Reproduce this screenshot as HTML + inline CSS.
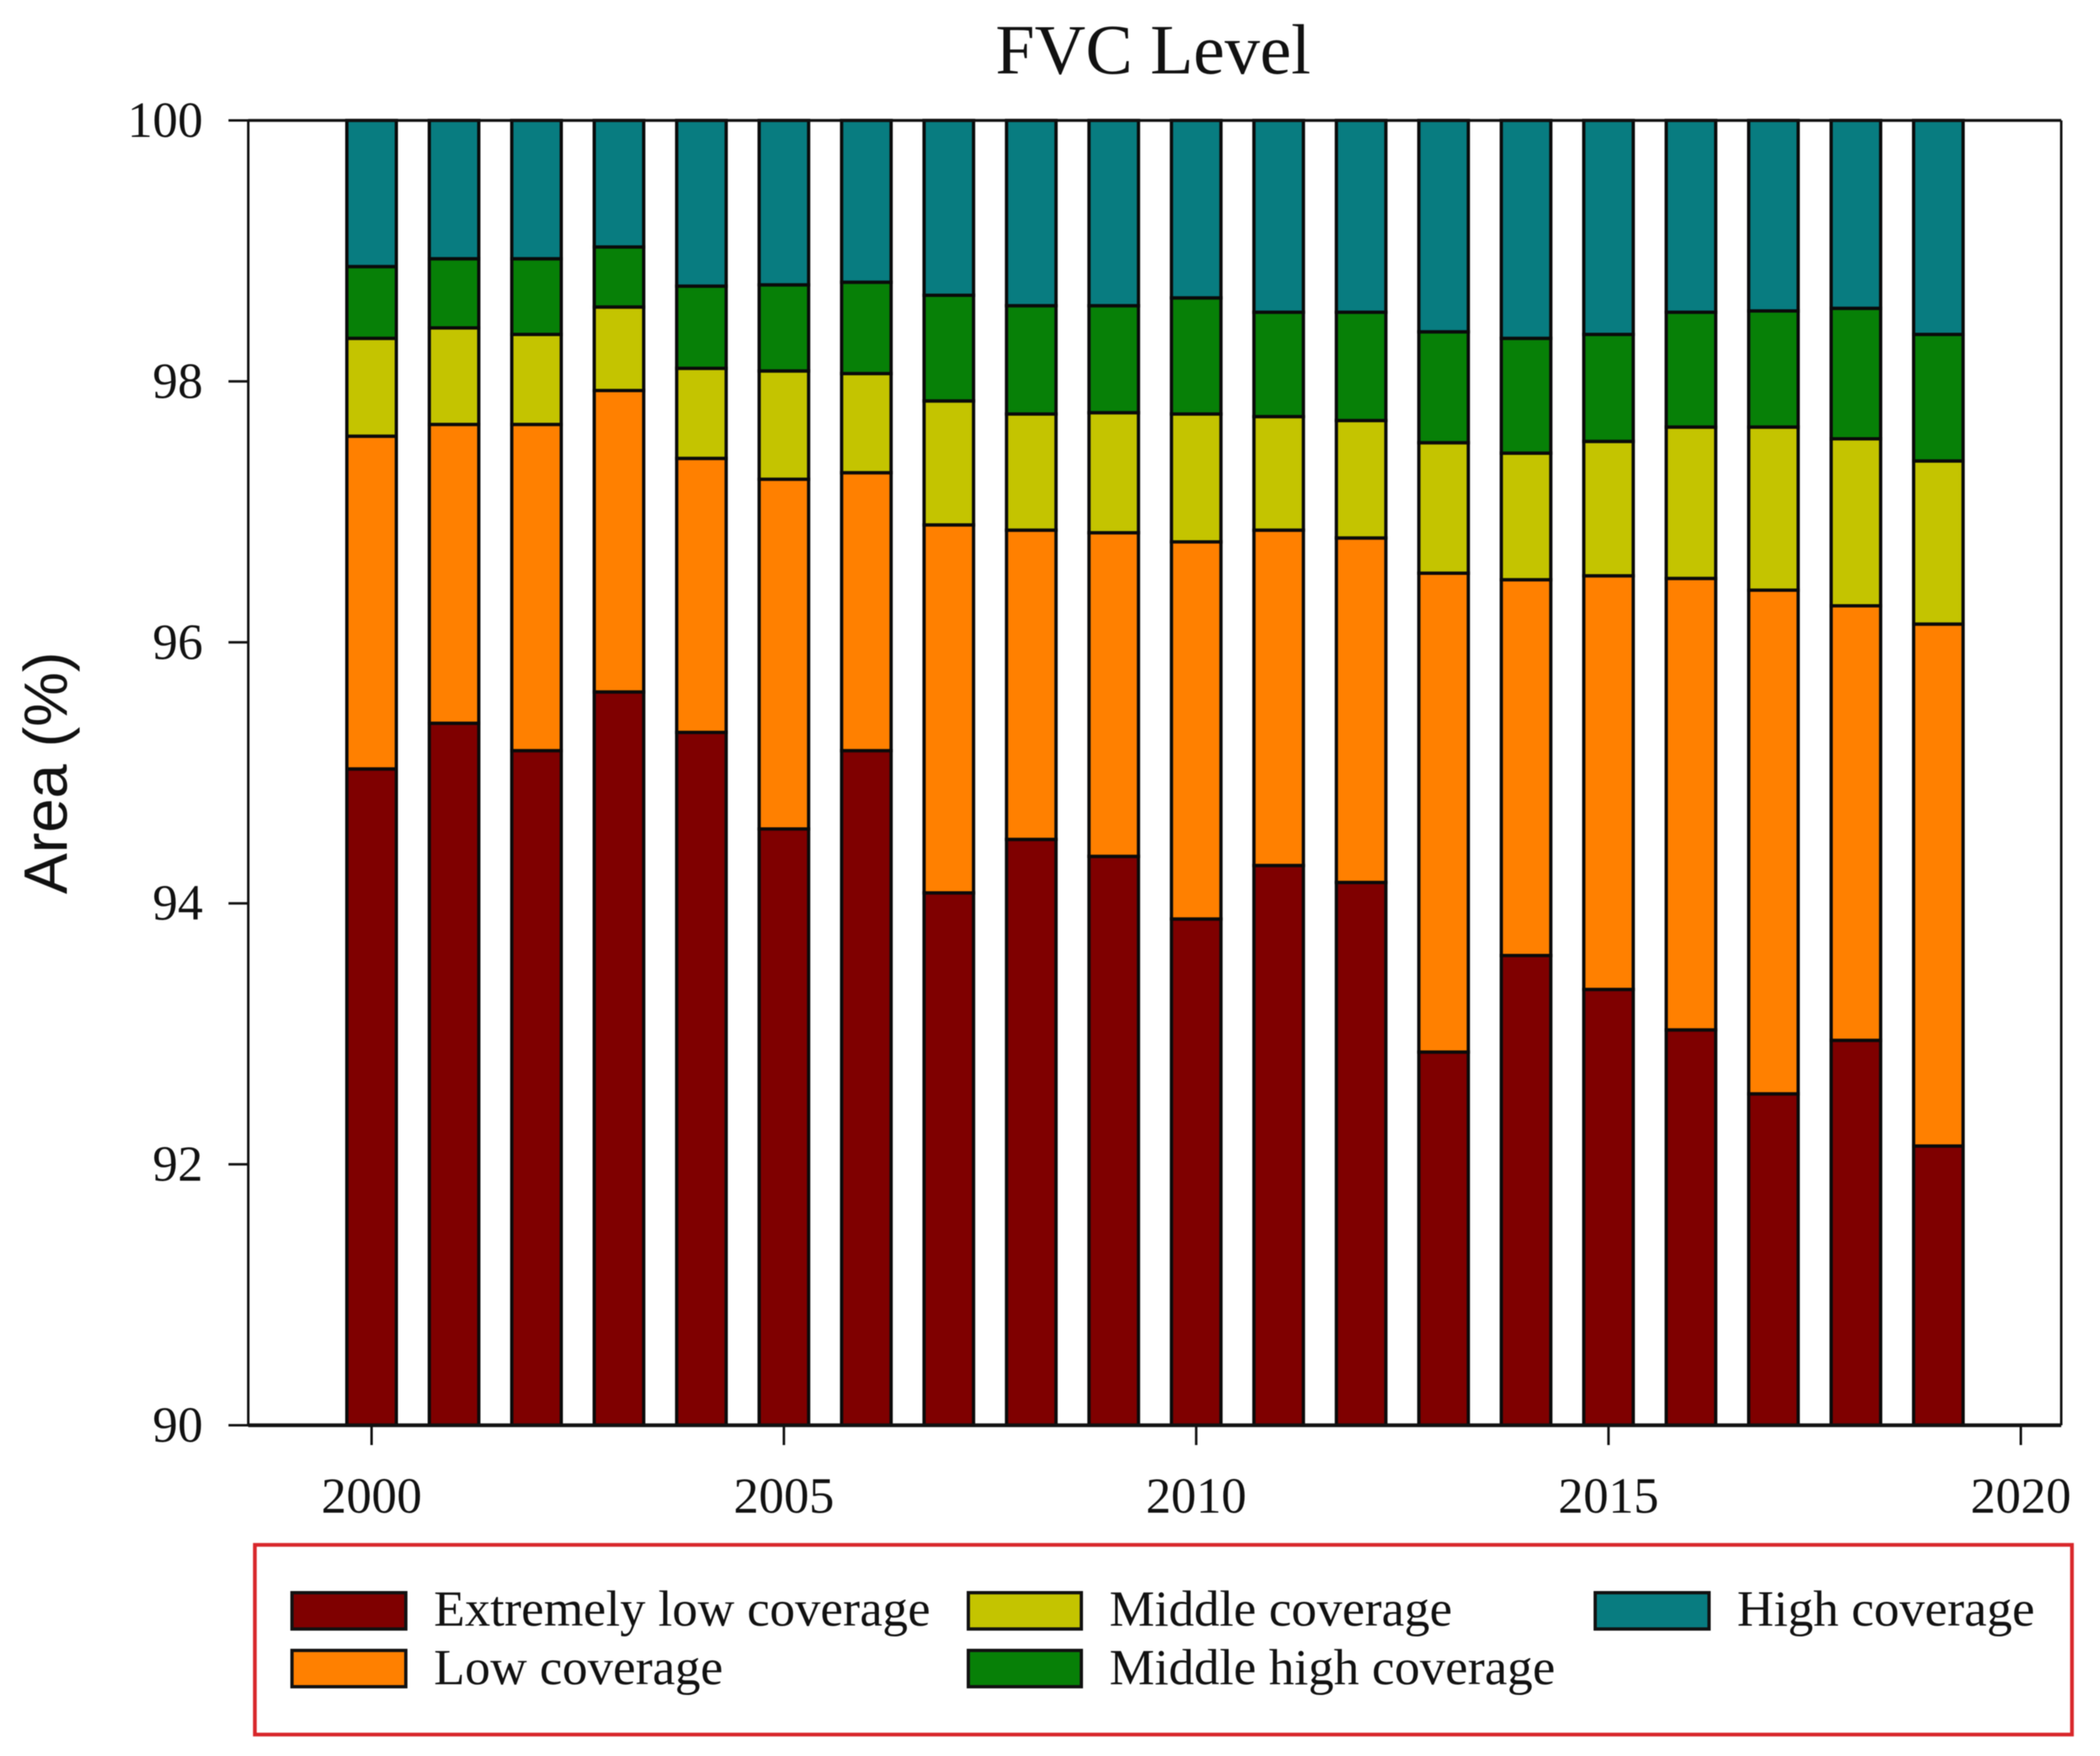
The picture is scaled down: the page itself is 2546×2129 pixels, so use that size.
<!DOCTYPE html>
<html lang="en">
<head>
<meta charset="utf-8">
<title>FVC Level</title>
<style>
  html, body { margin: 0; padding: 0; background: #fff; }
  svg { display: block; filter: blur(0.6px); }
  text { font-family: "Liberation Serif", serif; fill: #111; }
</style>
</head>
<body>
<svg id="chart" xmlns="http://www.w3.org/2000/svg" width="2546" height="2129" viewBox="0 0 2546 2129">
  <rect x="0" y="0" width="2546" height="2129" fill="#fff"/>
  <text x="1398" y="89" font-size="85.5" text-anchor="middle">FVC Level</text>
  <text transform="translate(81,937) rotate(-90)" font-size="74.5" text-anchor="middle" style="font-family:'Liberation Sans',sans-serif">Area (%)</text>
  <g id="bars"></g>
  <g id="axes"></g>
  <g>
    <rect x="309" y="1873" width="2203" height="230" fill="#fff" stroke="#d8262a" stroke-width="4.5"/>
    <g>
      <rect x="354" y="1931" width="138" height="44" fill="#7f0000" stroke="#111" stroke-width="4"/>
      <text x="526" y="1971" font-size="61.6">Extremely low coverage</text>
    </g>
    <g>
      <rect x="354" y="2001" width="138" height="44" fill="#ff8000" stroke="#111" stroke-width="4"/>
      <text x="526" y="2042" font-size="61.6">Low coverage</text>
    </g>
    <g>
      <rect x="1174" y="1931" width="137" height="44" fill="#c4c400" stroke="#111" stroke-width="4"/>
      <text x="1345" y="1971" font-size="61.6">Middle coverage</text>
    </g>
    <g>
      <rect x="1174" y="2001" width="137" height="44" fill="#078007" stroke="#111" stroke-width="4"/>
      <text x="1345" y="2042" font-size="61.6">Middle high coverage</text>
    </g>
    <g>
      <rect x="1934" y="1931" width="138" height="44" fill="#087c80" stroke="#111" stroke-width="4"/>
      <text x="2106" y="1971" font-size="61.6">High coverage</text>
    </g>
  </g>
</svg>
<script>
const years = [2000,2001,2002,2003,2004,2005,2006,2007,2008,2009,2010,2011,2012,2013,2014,2015,2016,2017,2018,2019];
const extremelyLow = [95.03,95.38,95.17,95.62,95.31,94.57,95.17,94.08,94.49,94.36,93.88,94.29,94.16,92.86,93.60,93.34,93.03,92.54,92.95,92.14];
const low = [2.55,2.29,2.50,2.31,2.10,2.68,2.13,2.82,2.37,2.48,2.89,2.57,2.64,3.67,2.88,3.17,3.46,3.86,3.33,4.00];
const middle = [0.75,0.74,0.69,0.64,0.69,0.83,0.76,0.95,0.89,0.92,0.98,0.87,0.90,1.00,0.97,1.03,1.16,1.25,1.28,1.25];
const middleHigh = [0.55,0.53,0.58,0.46,0.63,0.66,0.70,0.81,0.83,0.82,0.89,0.80,0.83,0.85,0.88,0.82,0.88,0.89,1.00,0.97];
const high = [1.12,1.06,1.06,0.97,1.27,1.26,1.24,1.34,1.42,1.42,1.36,1.47,1.47,1.62,1.67,1.64,1.47,1.46,1.44,1.64];
const yTicks = [90,92,94,96,98,100];
const xTicks = [2000,2005,2010,2015,2020];

const NS = 'http://www.w3.org/2000/svg';
const plotLeft = 301, plotRight = 2499, plotTop = 146, plotBottom = 1728;
const xAt2000 = 450.5, xAt2020 = 2450, yMin = 90, yMax = 100, barWidth = 60;
function xScale(year) { return xAt2000 + (year - 2000) * (xAt2020 - xAt2000) / 20; }
function yScale(value) { return plotBottom - (value - yMin) * (plotBottom - plotTop) / (yMax - yMin); }

function makeLine(x1, y1, x2, y2, width) {
  const line = document.createElementNS(NS, 'line');
  line.setAttribute('x1', x1);
  line.setAttribute('y1', y1);
  line.setAttribute('x2', x2);
  line.setAttribute('y2', y2);
  line.setAttribute('stroke', '#111');
  line.setAttribute('stroke-width', width);
  return line;
}

const barsGroup = document.getElementById('bars');
const axesGroup = document.getElementById('axes');

const stack = [
  { key: 'extremely-low', values: extremelyLow, color: '#7f0000' },
  { key: 'low', values: low, color: '#ff8000' },
  { key: 'middle', values: middle, color: '#c4c400' },
  { key: 'middle-high', values: middleHigh, color: '#078007' },
  { key: 'high', values: high, color: '#087c80' }
];

years.forEach(function (year, i) {
  let base = 0;
  stack.forEach(function (series) {
    const top = base + series.values[i];
    const clippedBase = Math.max(base, yMin);
    const rect = document.createElementNS(NS, 'rect');
    
    
    rect.setAttribute('x', xScale(year) - barWidth / 2);
    rect.setAttribute('y', yScale(Math.min(top, yMax)));
    rect.setAttribute('width', barWidth);
    rect.setAttribute('height', yScale(clippedBase) - yScale(Math.min(top, yMax)));
    rect.setAttribute('fill', series.color);
    rect.setAttribute('stroke', '#0a0a0a');
    rect.setAttribute('stroke-width', 4);
    barsGroup.appendChild(rect);
    base = top;
  });
});

const frameTop = makeLine(plotLeft, plotTop, plotRight, plotTop, 3.5);


axesGroup.appendChild(frameTop);

const frameRight = makeLine(plotRight, plotTop, plotRight, plotBottom, 3);


axesGroup.appendChild(frameRight);

const yAxisLine = makeLine(plotLeft, plotTop, plotLeft, plotBottom, 3);


axesGroup.appendChild(yAxisLine);

const xAxisLine = makeLine(plotLeft, plotBottom, plotRight, plotBottom, 4.5);


axesGroup.appendChild(xAxisLine);

yTicks.forEach(function (tick) {
  const mark = makeLine(plotLeft - 24, yScale(tick), plotLeft, yScale(tick), 3);
  
  
  axesGroup.appendChild(mark);
  const label = document.createElementNS(NS, 'text');
  
  
  label.setAttribute('x', 246);
  label.setAttribute('y', yScale(tick) + 20);
  label.setAttribute('font-size', 61);
  label.setAttribute('text-anchor', 'end');
  label.textContent = tick;
  axesGroup.appendChild(label);
});

xTicks.forEach(function (tick) {
  const mark = makeLine(xScale(tick), plotBottom, xScale(tick), plotBottom + 24, 3);
  
  
  axesGroup.appendChild(mark);
  const label = document.createElementNS(NS, 'text');
  
  
  label.setAttribute('x', xScale(tick));
  label.setAttribute('y', 1834);
  label.setAttribute('font-size', 61);
  label.setAttribute('text-anchor', 'middle');
  label.textContent = tick;
  axesGroup.appendChild(label);
});
</script>
</body>
</html>
